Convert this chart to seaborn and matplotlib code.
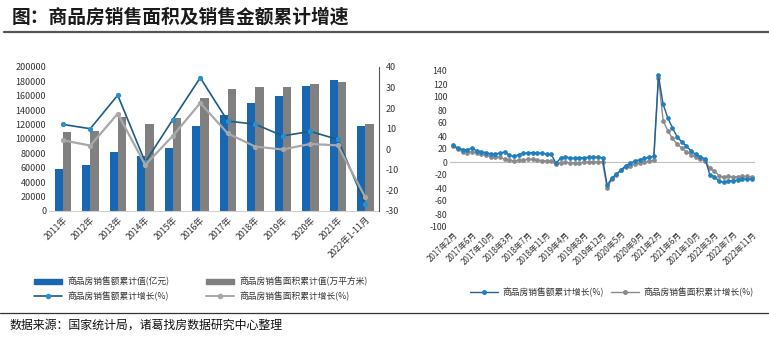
import numpy as np
import pandas as pd
import matplotlib
matplotlib.use("Agg")
import matplotlib.pyplot as plt
import seaborn as sns
from matplotlib.lines import Line2D
from matplotlib.patches import Patch

sns.set_style("white")
plt.rcParams['font.family'] = ['Noto Sans CJK SC', 'DejaVu Sans']
plt.rcParams['axes.unicode_minus'] = False

# ---------------- data: left chart ----------------
years = ["2011年", "2012年", "2013年", "2014年", "2015年", "2016年", "2017年",
         "2018年", "2019年", "2020年", "2021年", "2022年1-11月"]
sales_amount = [58589, 64456, 81428, 76292, 87281, 117627, 133701,
                149973, 159725, 173613, 181930, 118648]
sales_area = [109946, 111304, 130551, 120649, 128495, 157349, 169408,
              171654, 171558, 176086, 179433, 121250]
amount_growth = [12.1, 10.0, 26.3, -6.3, 14.4, 34.8, 13.7, 12.2, 6.5, 8.7, 4.8, -26.6]
area_growth = [4.4, 1.8, 17.3, -7.6, 6.5, 22.5, 7.7, 1.3, -0.1, 2.6, 1.9, -23.3]

# ---------------- data: right chart (monthly cumulative growth) ----------------
month_years = [2017, 2018, 2019, 2020, 2021, 2022]
amount_m = [
    25.4, 21.5, 19.2, 18.6, 21.5, 17.2, 15.5, 14.6, 12.6, 12.4, 13.7,
    15.3, 10.4, 8.8, 11.3, 13.2, 14.1, 14.5, 13.3, 13.7, 12.1, 12.2,
    -2.0, 5.6, 8.1, 6.1, 5.6, 6.2, 6.7, 7.1, 7.3, 7.3, 6.5,
    -35.9, -24.7, -18.6, -12.3, -5.4, -2.1, 1.6, 3.7, 5.8, 7.2, 8.7,
    133.4, 88.5, 68.2, 52.4, 38.9, 30.7, 24.7, 16.6, 11.8, 8.0, 4.8,
    -19.3, -22.7, -29.5, -31.5, -28.9, -28.8, -27.9, -26.3, -26.1, -26.6,
]
area_m = [
    25.1, 19.5, 15.7, 14.3, 16.1, 14.0, 12.7, 10.3, 8.2, 7.9, 7.7,
    4.1, 3.6, 1.3, 2.9, 3.3, 4.2, 4.0, 2.9, 2.2, 1.4, 1.3,
    -3.6, -0.9, -0.3, -1.6, -1.8, -1.3, -0.6, -0.1, 0.1, 0.2, -0.1,
    -39.9, -26.3, -19.3, -12.3, -8.4, -5.8, -3.3, -1.8, 0.0, 1.3, 2.6,
    130.0, 63.8, 48.1, 36.3, 27.7, 21.5, 15.9, 11.3, 7.3, 4.8, 1.9,
    -9.6, -13.8, -20.9, -23.6, -22.2, -23.1, -22.5, -22.2, -22.3, -23.3,
]
months = []
for y in month_years:
    last = 11 if y == 2022 else 12
    for m in range(2, last + 1):
        months.append(f"{y}年{m}月")

# ---------------- figure ----------------
W, H = 769, 338
fig = plt.figure(figsize=(W / 100, H / 100), dpi=100)
fig.patch.set_facecolor("white")

def fx(px):
    return px / W

def fy(py):
    return 1 - py / H

# title and rules
fig.text(fx(12), fy(17), "图：商品房销售面积及销售金额累计增速", fontsize=13.5,
         fontweight="bold", va="center", ha="left", color="#1a1a1a")
fig.add_artist(Line2D([fx(4), 1.0], [fy(31.5), fy(31.5)], color="#555555", lw=1.6))
fig.add_artist(Line2D([0.0, 1.0], [fy(313), fy(313)], color="#333333", lw=0.9))
fig.text(fx(9), fy(325), "数据来源：国家统计局，诸葛找房数据研究中心整理", fontsize=8.6,
         va="center", ha="left", color="#111111")

# ---------------- left chart ----------------
BLUE_BAR = "#1767b3"
GRAY_BAR = "#808080"
AMT_LINE = "#1f5a80"
AMT_MARK = "#2a8fd0"
AREA_LINE = "#a8a8a8"

ax = fig.add_axes([fx(49), fy(211), fx(379) - fx(49), fy(67) - fy(211)])
df_bar = pd.DataFrame({
    "year": years * 2,
    "value": sales_amount + sales_area,
    "kind": ["商品房销售额累计值(亿元)"] * len(years) + ["商品房销售面积累计值(万平方米)"] * len(years),
})
sns.barplot(data=df_bar, x="year", y="value", hue="kind", ax=ax,
            palette=[BLUE_BAR, GRAY_BAR], width=0.6, gap=0, saturation=1,
            legend=False, linewidth=0)
ax.set_xlim(-0.5, len(years) - 0.5)
ax.set_ylim(0, 200000)
ax.set_yticks(np.arange(0, 200001, 20000))
ax.set_yticklabels([str(v) for v in range(0, 200001, 20000)], fontsize=6.5, color="#333333")
ax.set_xlabel("")
ax.set_ylabel("")
ax.set_xticks(range(len(years)))
ax.set_xticklabels(years, rotation=45, ha="right", rotation_mode="anchor", fontsize=6.3, color="#333333")
for s in ["top", "right", "left"]:
    ax.spines[s].set_visible(False)
ax.spines["bottom"].set_color("#d0d0d0")
ax.tick_params(axis="both", length=0, pad=2)
ax.tick_params(axis="x", pad=3)

ax2 = ax.twinx()
xs = np.arange(len(years))
sns.lineplot(x=xs, y=amount_growth, ax=ax2, color=AMT_LINE, lw=1.2, marker="o",
             markersize=3, markerfacecolor=AMT_MARK, markeredgecolor=AMT_MARK)
sns.lineplot(x=xs, y=area_growth, ax=ax2, color=AREA_LINE, lw=1.6, marker="o",
             markersize=3, markerfacecolor=AREA_LINE, markeredgecolor=AREA_LINE)
ax2.set_ylim(-30, 40)
ax2.set_yticks(range(-30, 41, 10))
ax2.set_yticklabels([str(v) for v in range(-30, 41, 10)], fontsize=6.5, color="#333333")
ax2.set_xlim(-0.5, len(years) - 0.5)
for s in ["top", "left", "bottom"]:
    ax2.spines[s].set_visible(False)
ax2.spines["right"].set_color("#555555")
ax2.spines["right"].set_linewidth(0.8)
ax2.tick_params(axis="y", length=0, pad=5)
ax2.grid(False)

handles = [
    Patch(color=BLUE_BAR, label="商品房销售额累计值(亿元)"),
    Line2D([], [], color=AMT_LINE, lw=1.2, marker="o", markersize=3,
           markerfacecolor=AMT_MARK, markeredgecolor=AMT_MARK, label="商品房销售额累计增长(%)"),
    Patch(color=GRAY_BAR, label="商品房销售面积累计值(万平方米)"),
    Line2D([], [], color=AREA_LINE, lw=1.4, marker="o", markersize=3,
           markerfacecolor=AREA_LINE, markeredgecolor=AREA_LINE, label="商品房销售面积累计增长(%)"),
]
fig.legend(handles=handles, ncol=2, loc="center left", bbox_to_anchor=(fx(26), fy(289)),
           frameon=False, fontsize=6.3, handlelength=3.2, handleheight=0.6,
           columnspacing=4.2, handletextpad=0.6, labelspacing=0.55, labelcolor="#333333")

# ---------------- right chart ----------------
R_AMT_LINE = "#1f5f99"
R_AMT_MARK = "#1f7fc0"
R_AREA = "#8a8a8a"

bx = fig.add_axes([fx(450), fy(227), fx(755) - fx(450), fy(71) - fy(227)])
mx = np.arange(len(months))
sns.lineplot(x=mx, y=area_m, ax=bx, color=R_AREA, lw=1.0, marker="o", markersize=2.6,
             markerfacecolor=R_AREA, markeredgecolor=R_AREA)
sns.lineplot(x=mx, y=amount_m, ax=bx, color=R_AMT_LINE, lw=1.0, marker="o", markersize=2.6,
             markerfacecolor=R_AMT_MARK, markeredgecolor=R_AMT_MARK)
bx.axhline(0, color="#bfbfbf", lw=0.8, zorder=0)
bx.set_ylim(-100, 140)
bx.set_xlim(-0.7, len(months) - 0.3)
bx.set_yticks(range(-100, 141, 20))
bx.set_yticklabels([str(v) for v in range(-100, 141, 20)], fontsize=6.3, color="#333333")
tick_idx = list(range(0, len(months), 4))
bx.set_xticks(tick_idx)
bx.set_xticklabels([months[i] for i in tick_idx], rotation=45, ha="right",
                   rotation_mode="anchor", fontsize=5.8, color="#333333")
for s in ["top", "right", "left", "bottom"]:
    bx.spines[s].set_visible(False)
bx.tick_params(axis="both", length=0, pad=2)
bx.set_xlabel("")
bx.set_ylabel("")

rhandles = [
    Line2D([], [], color=R_AMT_LINE, lw=1.0, marker="o", markersize=2.6,
           markerfacecolor=R_AMT_MARK, markeredgecolor=R_AMT_MARK, label="商品房销售额累计增长(%)"),
    Line2D([], [], color=R_AREA, lw=1.0, marker="o", markersize=2.6,
           markerfacecolor=R_AREA, markeredgecolor=R_AREA, label="商品房销售面积累计增长(%)"),
]
fig.legend(handles=rhandles, ncol=2, loc="center", bbox_to_anchor=(fx(612), fy(292)),
           frameon=False, fontsize=6.3, handlelength=3.2, columnspacing=0.8,
           handletextpad=0.5, labelcolor="#333333")

fig.savefig("out.png", dpi=100, facecolor="white")
